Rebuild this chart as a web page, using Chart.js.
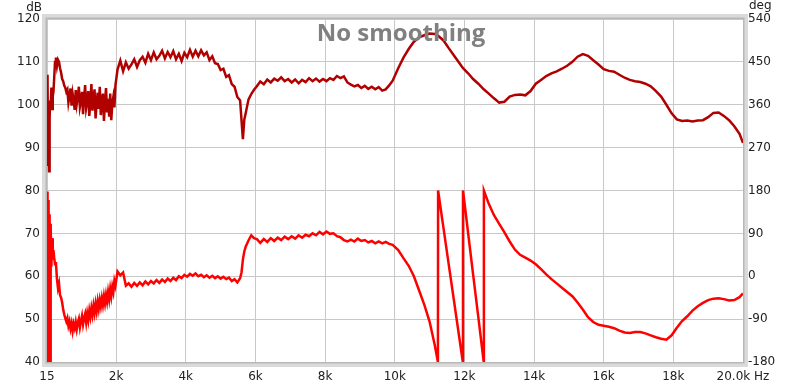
<!DOCTYPE html>
<html>
<head>
<meta charset="utf-8">
<script src="https://cdn.jsdelivr.net/npm/chart.js@4.4.1/dist/chart.umd.min.js"></script>
<style>
  html, body { margin: 0; padding: 0; background: #ffffff; }
  #wrap { width: 800px; height: 387px; position: relative; }
</style>
</head>
<body>
<div id="wrap"><canvas id="measurement"></canvas></div>
<script>
// frequency points (Hz), shared by both traces
const freqs = [
  15, 30, 45, 60, 75, 90, 105, 120, 140, 160, 180, 200, 220, 245, 270,
  300, 330, 360, 390, 420, 450, 480, 510, 540, 570,
  600, 630, 660, 690, 720, 750, 780, 810, 840, 870,
  900, 930, 960, 990, 1020, 1050, 1080, 1110, 1140, 1170,
  1200, 1230, 1260, 1290, 1320, 1350, 1380, 1410, 1440, 1470,
  1500, 1530, 1560, 1590, 1620, 1650, 1680, 1710, 1740, 1770,
  1800, 1830, 1860, 1890, 1920, 1950, 1980,
  2040, 2120, 2200, 2280, 2360, 2440, 2520, 2600, 2680, 2760,
  2840, 2920, 3000, 3080, 3160, 3240, 3320, 3400, 3480, 3560,
  3640, 3720, 3800, 3880, 3960, 4040, 4120, 4200, 4280, 4360,
  4440, 4520, 4600, 4680, 4760, 4840, 4920, 5000, 5080, 5160,
  5240, 5320, 5400, 5480, 5560, 5600, 5640, 5680, 5720, 5800,
  5880, 5960,
  6040, 6140, 6240, 6340, 6440, 6540, 6640, 6740, 6840, 6940,
  7040, 7140, 7240, 7340, 7440, 7540, 7640, 7740, 7840, 7940,
  8040, 8140, 8240, 8340, 8440, 8540, 8640, 8740, 8840, 8940,
  9040, 9140, 9240, 9340, 9440, 9540, 9640, 9740, 9840, 9940,
  10100, 10250, 10400, 10550, 10700, 10850, 11000, 11150, 11240, 11245,
  11400, 11550, 11700, 11850, 11955, 11960, 12100, 12250, 12400, 12555,
  12560, 12700, 12850, 13000, 13150, 13300, 13450, 13600, 13750, 13900,
  14050, 14200, 14350, 14500, 14650, 14800, 14950, 15100, 15250, 15400,
  15550, 15700, 15850, 16000, 16150, 16300, 16450, 16600, 16750, 16900,
  17050, 17200, 17350, 17500, 17650, 17800, 17950, 18100, 18250, 18400,
  18550, 18700, 18850, 19000, 19150, 19300, 19450, 19600, 19750, 19900,
  20000,
];

// SPL (dB), left axis
const splDb = [
  94, 107, 86, 100, 84.5, 97, 101, 99, 104, 99, 102, 103, 106, 110, 111,
  109, 110.5, 110, 108.5, 107.5, 106, 105.5, 104.5, 104, 103,
  103.5, 100.5, 102, 103.8, 99.8, 102.6, 101, 98.8, 103.4, 100.2,
  101.8, 104.2, 99.5, 100.8, 103, 97.8, 101.6, 104.6, 99.2, 100.6,
  103.2, 97.4, 100.8, 104.8, 98.6, 101.2, 103.6, 96.8, 100.4, 102.8,
  99, 104.2, 97.6, 101, 102.6, 96.2, 100.8, 103.9, 98.2, 101.4,
  97.2, 102.6, 96.4, 100.2, 101.8, 99.4, 104.5,
  108.2, 110.3, 107.8, 109.9, 108.4, 109.4, 110.6, 108.8, 110.4, 111.2,
  109.8, 111.9, 110.4, 112.2, 110.6, 111.4, 112.6, 110.8, 112.3, 111.1,
  112.5, 110.6, 111.9, 110.2, 112.1, 111.1, 112.8, 111.2, 112.6, 111.3,
  112.7, 111.5, 112.2, 110.4, 111.3, 109.7, 109.5, 108.1, 108.4, 106.5,
  106.9, 104.8, 104.2, 101.8, 101, 96.4, 92, 96.5, 98, 101.2,
  102.5, 103.5,
  104.3, 105.4, 104.8, 105.9, 105.2, 106.1, 105.6, 106.4, 105.5, 106,
  105.2, 105.9, 105, 105.8, 105.3, 106.2, 105.5, 106.1, 105.4, 106,
  105.5, 106.2, 105.8, 106.7, 106.2, 106.6, 105.2, 104.7, 104.3, 104.6,
  103.9, 104.4, 103.7, 104.2, 103.6, 104.1, 103.3, 103.6, 104.5, 105.6,
  108.5, 111, 113, 114.7, 115.7, 116.2, 116.6, 116.5, 116.1, 116.1,
  115, 113.2, 111.5, 109.8, 108.6, 108.6, 107.4, 106, 104.9, 103.6,
  103.6, 102.6, 101.5, 100.5, 100.7, 101.9, 102.3, 102.4, 102.2, 103.2,
  104.9, 105.8, 106.7, 107.3, 107.8, 108.4, 109.1, 110, 111.2, 111.8,
  111.4, 110.4, 109.4, 108.3, 107.9, 107.7, 107, 106.3, 105.8, 105.5,
  105.3, 104.9, 104.3, 103.2, 101.9, 100, 98, 96.6, 96.2, 96.3,
  96.1, 96.3, 96.4, 97.1, 98.1, 98.2, 97.4, 96.4, 95, 93.2,
  91.1,
];

// phase (deg, wrapped to +-180), right axis
const phaseDeg = [
  -35, 178, -178, 160, -178, 130, -178, 110, 20, 80, 35, 55, 40, 25, 30,
  -5, -25, -15, -40, -45, -55, -70, -80, -88, -95,
  -88, -104, -95, -110, -99, -115, -100, -109, -96, -111,
  -97, -89, -107, -94, -83, -101, -88, -79, -97, -78,
  -92, -72, -85, -67, -81, -62, -77, -58, -73, -53,
  -68, -50, -63, -46, -60, -42, -57, -39, -53, -33,
  -48, -27, -42, -22, -33, -10, -20,
  10, 2, 8, -20, -15, -22, -14, -20, -13, -19,
  -11, -17, -10, -15, -8, -14, -7, -12, -5, -10,
  -3, -8, 0, -4, 3, -1, 5, 1, 6, 0,
  3, -2, 2, -3, 1, -4, 0, -5, -1, -6,
  -3, -10, -6, -13, -4, 8, 35, 52, 62, 75,
  86, 80,
  78, 70, 78, 72, 80, 74, 81, 76, 83, 78,
  84, 79, 86, 81, 87, 84, 90, 86, 93, 88,
  94, 89, 90, 84, 82, 76, 73, 77, 73, 79,
  74, 76, 71, 74, 69, 73, 69, 72, 68, 66,
  55, 38, 22, 0, -30, -60, -95, -145, -180, 180,
  101, 25, -51, -127, -180, 180, 95, 4, -86, -180,
  180, 152, 128, 110, 92, 73, 56, 45, 39, 33,
  25, 15, 4, -6, -15, -24, -33, -42, -55, -70,
  -86, -96, -102, -104, -106, -109, -114, -118, -119, -117,
  -117, -120, -124, -128, -131, -133, -124, -108, -94, -84,
  -72, -63, -56, -50, -47, -46, -48, -51, -50, -44,
  -36,
];

// axis ticks
const freqTicks = [15, 2000, 4000, 6000, 8000, 10000, 12000, 14000, 16000, 18000, 20000];
const freqLabels = ["15", "2k", "4k", "6k", "8k", "10k", "12k", "14k", "16k", "18k", "20.0k Hz"];
const dbTicks = [40, 50, 60, 70, 80, 90, 100, 110, 120];
const degTicks = [-180, -90, 0, 90, 180, 270, 360, 450, 540];

const tickFont = { family: "DejaVu Sans", size: 12 };

// frame + unit labels + title
const decorPlugin = {
  id: "decor",
  afterDraw(chart) {
    const ctx = chart.ctx;
    const a = chart.chartArea;
    ctx.save();
    // grey frame round the plot
    ctx.strokeStyle = "#dadada";
    ctx.lineWidth = 4;
    ctx.strokeRect(a.left - 3, a.top - 3, a.right - a.left + 6, a.bottom - a.top + 6);
    ctx.strokeStyle = "#b8b8b8";
    ctx.lineWidth = 1.5;
    ctx.strokeRect(a.left - 0.75, a.top - 0.75, a.right - a.left + 1.5, a.bottom - a.top + 1.5);

    ctx.fillStyle = "#222222";
    ctx.font = "12px 'DejaVu Sans'";
    ctx.textBaseline = "alphabetic";
    ctx.textAlign = "right";
    ctx.fillText("dB", 42, 11);
    ctx.textAlign = "left";
    ctx.fillText("deg", 749, 9);

    ctx.fillStyle = "#808080";
    ctx.font = "bold 24px 'Open Sans'";
    ctx.textAlign = "center";
    ctx.fillText("No smoothing", 401, 41);
    ctx.restore();
  },
};

const dataPlot = {
  datasets: [
    {
      label: "SPL",
      data: freqs.map((f, i) => ({ x: f, y: splDb[i] })),
      borderColor: "#b00000",
      borderWidth: 2.5,
      pointRadius: 0,
      tension: 0,
      yAxisID: "y",
    },
    {
      label: "Phase",
      data: freqs.map((f, i) => ({ x: f, y: phaseDeg[i] })),
      borderColor: "#ff0000",
      borderWidth: 2.5,
      pointRadius: 0,
      tension: 0,
      yAxisID: "y1",
    },
  ],
};

const configPlot = {
  type: "line",
  data: dataPlot,
  options: {
    responsive: true,
    maintainAspectRatio: false,
    animation: false,
    events: [],
    layout: { padding: { top: 19, left: 0, right: 0, bottom: 0 } },
    plugins: {
      legend: { display: false },
      title: { display: false },
      tooltip: { enabled: false },
    },
    scales: {
      x: {
        type: "linear",
        min: 15,
        max: 20000,
        afterBuildTicks: (s) => { s.ticks = freqTicks.map((v) => ({ value: v })); },
        afterFit: (s) => { s.height = 25; },
        ticks: {
          font: tickFont,
          color: "#222222",
          padding: 8,
          maxRotation: 0,
          autoSkip: false,
          callback: (v) => freqLabels[freqTicks.indexOf(v)],
        },
        grid: { color: "#c8c8c8", lineWidth: 1, drawTicks: false },
        border: { display: false },
      },
      y: {
        position: "left",
        min: 40,
        max: 120,
        afterBuildTicks: (s) => { s.ticks = dbTicks.map((v) => ({ value: v })); },
        afterFit: (s) => { s.width = 47; },
        ticks: { font: tickFont, color: "#222222", padding: 7 },
        grid: { color: "#c8c8c8", lineWidth: 1, drawTicks: false },
        border: { display: false },
      },
      y1: {
        position: "right",
        min: -180,
        max: 540,
        afterBuildTicks: (s) => { s.ticks = degTicks.map((v) => ({ value: v })); },
        afterFit: (s) => { s.width = 57; },
        ticks: { font: tickFont, color: "#222222", padding: 5 },
        grid: { display: false, drawTicks: false },
        border: { display: false },
      },
    },
  },
  plugins: [decorPlugin],
};

const chartPlot = new Chart(document.getElementById("measurement"), configPlot);
</script>
</body>
</html>
